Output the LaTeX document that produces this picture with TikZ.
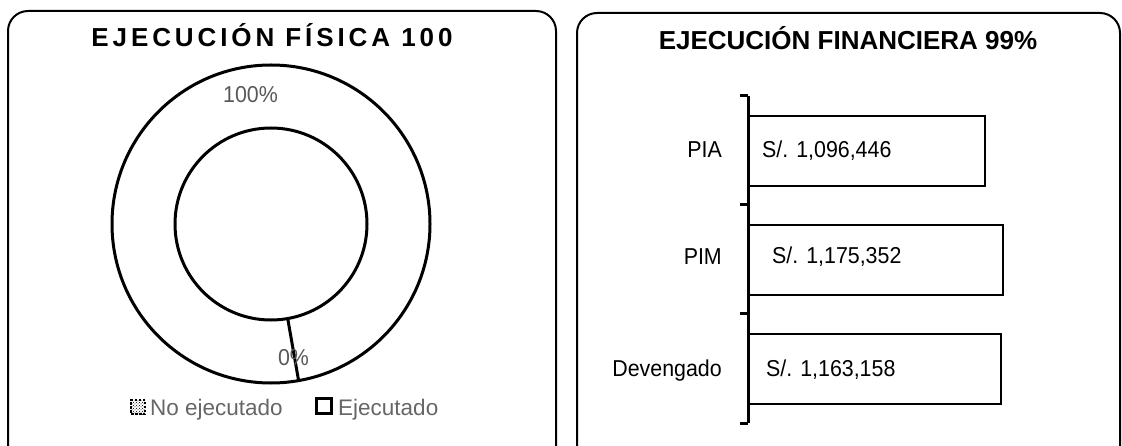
\documentclass[tikz,border=0pt]{standalone}
\usepackage{fontspec}
\setmainfont{Liberation Sans}
\newfontfamily\narrowfont[FakeStretch=0.93]{Liberation Sans}
\newfontfamily\spacedfont[LetterSpace=15]{Liberation Sans}
\usetikzlibrary{patterns}
\begin{document}
\begin{tikzpicture}[x=1pt,y=-1pt,
  panel/.style={draw, line width=2pt, rounded corners=20pt},
  ring/.style={draw, line width=3pt},
  axisline/.style={draw, line width=3pt},
  bar/.style={draw, line width=2.2pt, anchor=north west, inner sep=0pt, minimum height=70pt},
  cat/.style={anchor=base east, inner sep=0pt, font=\narrowfont\fontsize{23}{27}\selectfont},
  val/.style={anchor=base west, inner sep=0pt, font=\narrowfont\fontsize{23}{27}\selectfont},
  pct/.style={anchor=base, inner sep=0pt, text=black!65, font=\narrowfont\fontsize{23}{27}\selectfont},
  leg/.style={anchor=base west, inner sep=0pt, text=black!60, font=\fontsize{22.5}{26}\selectfont},
  ttl/.style={anchor=base, inner sep=0pt, font=\bfseries\fontsize{26}{30}\selectfont}]
\useasboundingbox (0,0) rectangle (1122,446);
\clip (0,0) rectangle (1122,446);
% panels
\draw[panel] (8,11) rectangle (556,470);
\draw[panel] (577,13) rectangle (1120,470);
% titles
\node[ttl, font=\spacedfont\bfseries\fontsize{26}{30}\selectfont] (t1) at (272,47) {EJECUCIÓN FÍSICA 100};
\node[ttl] (t2) at (848,50) {EJECUCIÓN FINANCIERA 99\%};
% donut
\coordinate (c) at (271,224);
\draw[ring] (c) circle[radius=159];
\draw[ring] (c) circle[radius=96];
\coordinate (s1) at (287.7,318.5);
\coordinate (s2) at (298.6,380.6);
\draw[ring] (s1) -- (s2);
\node[pct] (p100) at (250.5,103) {100\%};
\node[pct] (p0) at (293.5,365) {0\%};
% legend
\node[draw, dash pattern=on 2.5pt off 1.5pt, line width=2.5pt, pattern=crosshatch dots, minimum size=14pt, inner sep=0pt] (i1) at (138,407) {};
\node[leg] (l1) at (150,415) {No ejecutado};
\node[draw, line width=3pt, minimum size=15pt, inner sep=0pt] (i2) at (324,406) {};
\node[leg] (l2) at (338,415) {Ejecutado};
% bar chart axis
\coordinate (atop) at (748,96);
\coordinate (abot) at (748,423);
\draw[axisline] (atop) -- (abot);
\foreach \yy in {96,205,314,423} {\draw[axisline] (740,\yy) -- (748,\yy);}
% bars
\node[bar, minimum width=236pt] (bpia) at (748,115) {};
\node[bar, minimum width=254pt] (bpim) at (748,224) {};
\node[bar, minimum width=252pt] (bdev) at (748,333) {};
% values
\node[val] (vpia) at (762,158) {S/. 1,096,446};
\node[val] (vpim) at (772,264) {S/. 1,175,352};
\node[val] (vdev) at (766,377) {S/. 1,163,158};
% categories
\node[cat] (cpia) at (722,158) {PIA};
\node[cat] (cpim) at (722,265) {PIM};
\node[cat] (cdev) at (722,376) {Devengado};
\end{tikzpicture}
\end{document}
